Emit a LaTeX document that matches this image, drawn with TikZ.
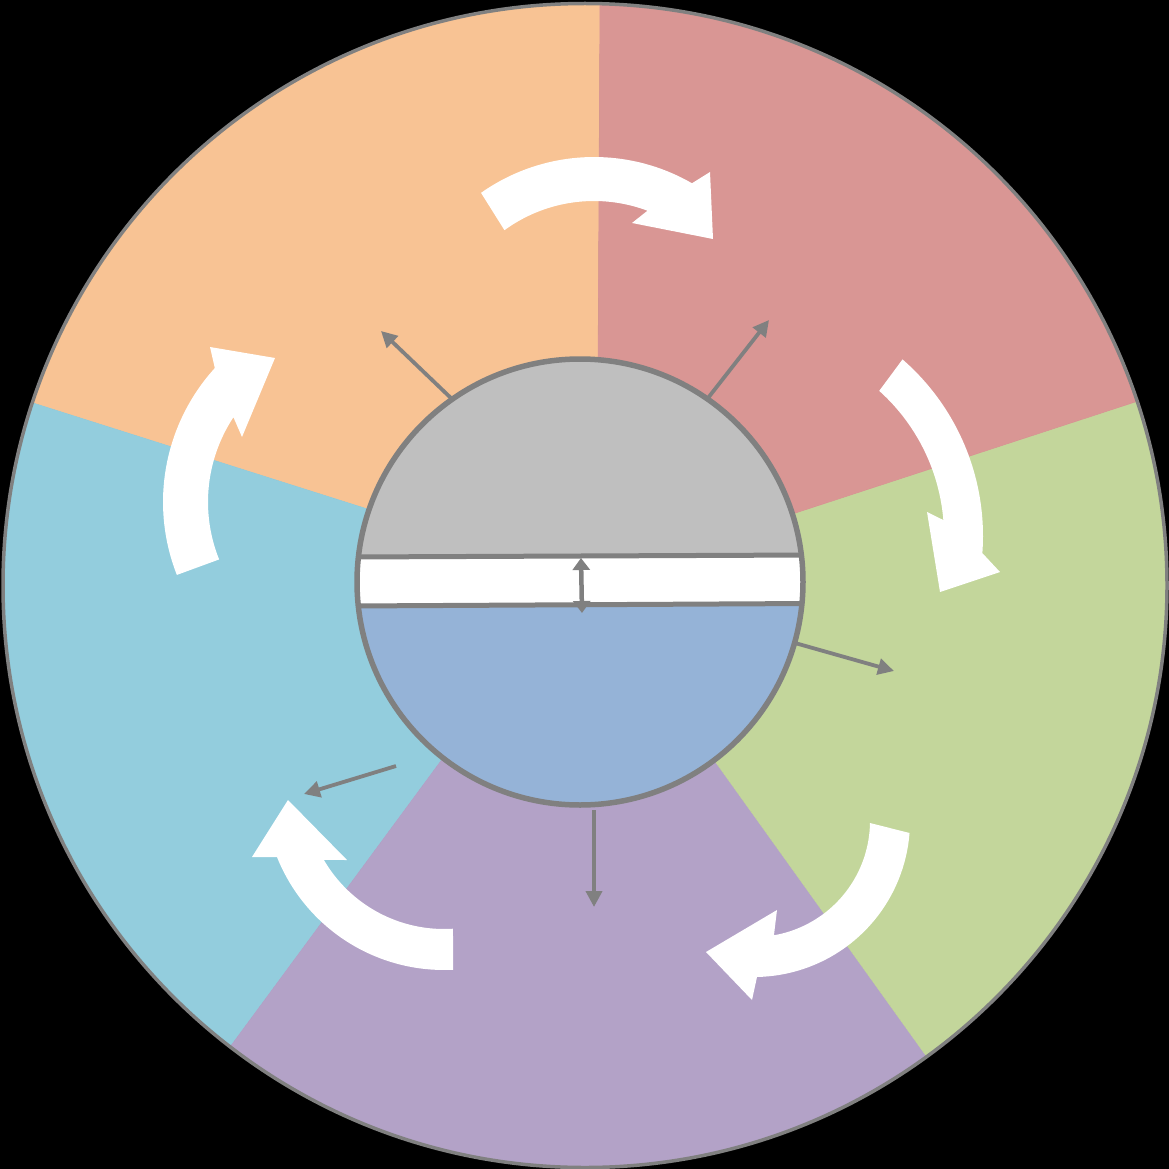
\documentclass[tikz,border=0pt]{standalone}
\usetikzlibrary{calc,arrows.meta}
\definecolor{secorange}{RGB}{248,195,148}
\definecolor{secred}{RGB}{217,150,148}
\definecolor{secgreen}{RGB}{195,214,155}
\definecolor{secpurple}{RGB}{179,162,199}
\definecolor{seccyan}{RGB}{147,205,221}
\definecolor{coregray}{RGB}{191,191,191}
\definecolor{coreblue}{RGB}{149,179,215}
\definecolor{strokegray}{RGB}{128,128,128}
\begin{document}
\begin{tikzpicture}[x=1pt,y=-1pt,
  sector/.style={fill=#1,draw=#1,line width=0.6pt},
  rim/.style={draw=strokegray,line width=3.5pt},
  coreline/.style={draw=strokegray,line width=5.5pt},
  bandline/.style={draw=strokegray,line width=5pt},
  radial/.style={draw=strokegray,line width=3.8pt,-{Triangle[length=16pt,width=16pt]}},
  gap/.style={draw=strokegray,line width=4.5pt,{Triangle[length=12pt,width=17pt]}-{Triangle[length=12pt,width=17pt]}},
  flow/.style={fill=white}]
\fill[black] (0,0) rectangle (1169,1169);
\path[use as bounding box] (0,0) rectangle (1169,1169);

% sector boundary lines
\coordinate (C) at (585,580);
\coordinate (I1) at (598,380); \coordinate (O1) at (600,5);
\coordinate (I2) at (380,513); \coordinate (O2) at (33,403);
\coordinate (I3) at (449,750); \coordinate (O3) at (233,1043);
\coordinate (I4) at (707,750); \coordinate (O4) at (922,1050);
\coordinate (I5) at (780,518); \coordinate (O5) at (1135,402);
\coordinate (F1) at ($(I1)!2.2!(O1)$);
\coordinate (F2) at ($(I2)!2.2!(O2)$);
\coordinate (F3) at ($(I3)!2.2!(O3)$);
\coordinate (F4) at ($(I4)!2.2!(O4)$);
\coordinate (F5) at ($(I5)!2.2!(O5)$);

\begin{scope}
  \clip (585,585.5) circle[radius=582];
  \path[sector=secorange] (C) -- (I1) -- (F1) -- (F2) -- (I2) -- cycle;
  \path[sector=seccyan]   (C) -- (I2) -- (F2) -- (F3) -- (I3) -- cycle;
  \path[sector=secpurple] (C) -- (I3) -- (F3) -- (F4) -- (I4) -- cycle;
  \path[sector=secgreen]  (C) -- (I4) -- (F4) -- (F5) -- (I5) -- cycle;
  \path[sector=secred]    (C) -- (I5) -- (F5) -- (F1) -- (I1) -- cycle;
\end{scope}
\draw[rim] (585,585.5) circle[radius=582];

% white curved arrows
\fill[flow] plot[domain=-125.2:-60,samples=40] ({594+196*cos(\x)},{353+196*sin(\x)})
  -- (710,172) -- (713,239) -- (632,223)
  -- plot[domain=-69.4:-126.1,samples=40] ({594+152*cos(\x)},{353+152*sin(\x)}) -- cycle;
\fill[flow] plot[domain=-49:4.2,samples=40] ({749+234*cos(\x)},{536+234*sin(\x)})
  -- (1000,572) -- (940,592) -- (927,512)
  -- plot[domain=-4.7:-48.1,samples=40] ({749+195*cos(\x)},{536+195*sin(\x)}) -- cycle;
\fill[flow] plot[domain=4.4:88.9,samples=40] ({754+156*cos(\x)},{821+156*sin(\x)})
  -- (752,1000) -- (706,952) -- (777,910)
  -- plot[domain=80.1:1.0,samples=40] ({754+116*cos(\x)},{821+116*sin(\x)}) -- cycle;
\fill[flow] plot[domain=87.1:158.1,samples=40] ({444+180*cos(\x)},{790+180*sin(\x)})
  -- (252,857) -- (288,800) -- (347,860)
  -- plot[domain=149.8:86.3,samples=40] ({444+139*cos(\x)},{790+139*sin(\x)}) -- cycle;
\fill[flow] plot[domain=158.5:222.3,samples=40] ({362+199*cos(\x)},{502+199*sin(\x)})
  -- (210,347) -- (275,358) -- (242,437)
  -- plot[domain=213.4:158.1,samples=40] ({362+154*cos(\x)},{502+154*sin(\x)}) -- cycle;

% core circle
\coordinate (core) at (580,582);
\begin{scope}
  \clip (core) circle[radius=223];
  \fill[coreblue] (350,350) rectangle (810,810);
  \fill[coregray] (350,350) -- (810,350) -- (810,555) -- (350,557) -- cycle;
  \fill[white] (350,557) -- (810,555) -- (810,603.5) -- (350,606) -- cycle;
  \draw[bandline] (350,557) -- (810,555);
  \draw[bandline] (350,606) -- (810,603.5);
\end{scope}
\draw[coreline] (core) circle[radius=223];

% gap arrow
\coordinate (gtop) at (581,558);
\coordinate (gbot) at (582,613);
\draw[gap] (gtop) -- (gbot);

% radial arrows
\coordinate (s1) at (453,400); \coordinate (t1) at (381,331);
\coordinate (s2) at (708,398); \coordinate (t2) at (769,320);
\coordinate (s3) at (795,643); \coordinate (t3) at (894,671);
\coordinate (s4) at (396,766); \coordinate (t4) at (304,794);
\coordinate (s5) at (594,810); \coordinate (t5) at (594,907);
\draw[radial] (s1) -- (t1);
\draw[radial] (s2) -- (t2);
\draw[radial] (s3) -- (t3);
\draw[radial] (s4) -- (t4);
\draw[radial] (s5) -- (t5);
\end{tikzpicture}
\end{document}
